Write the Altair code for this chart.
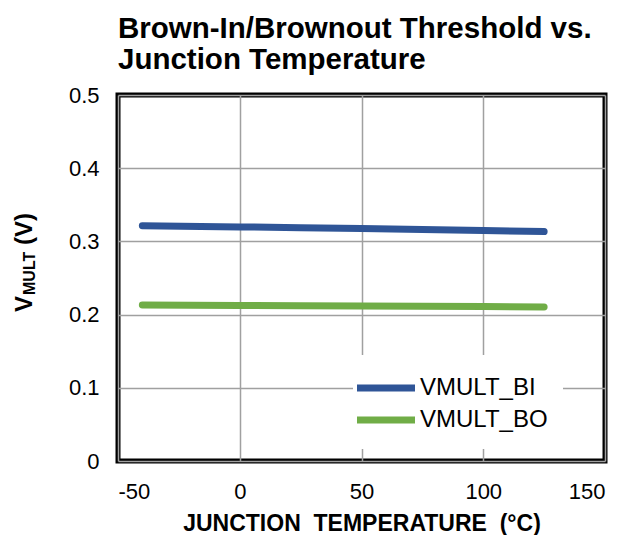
import altair as alt
import pandas as pd

temps = [-40, 0, 25, 50, 75, 100, 125]
vmult_bi = [0.3215, 0.3198, 0.3188, 0.3176, 0.3164, 0.3150, 0.3134]
vmult_bo = [0.2131, 0.2124, 0.2120, 0.2117, 0.2113, 0.2109, 0.2104]
series = ["VMULT_BI", "VMULT_BO"]
colors = ["#2F5597", "#70AD47"]
x_ticks = [-50, 0, 50, 100, 150]
y_ticks = [0, 0.1, 0.2, 0.3, 0.4, 0.5]

rows = []
for t, v in zip(temps, vmult_bi):
    rows.append({"temp": t, "v": v, "series": series[0]})
for t, v in zip(temps, vmult_bo):
    rows.append({"temp": t, "v": v, "series": series[1]})
df = pd.DataFrame(rows)

FONT = "Liberation Sans"
W, H = 487, 366
NB = "\u00a0"

lines = alt.Chart(df).mark_line(strokeWidth=7, strokeCap="round", strokeJoin="round").encode(
    x=alt.X("temp:Q", scale=alt.Scale(domain=[-50, 150], nice=False),
            axis=alt.Axis(values=x_ticks,
                          title=f"JUNCTION{NB}{NB}TEMPERATURE{NB}{NB}(°C)",
                          labelExpr="'' + datum.value", labelFlush=True,
                          titleFontSize=23, titleFont=FONT, titleFontWeight="bold",
                          titleColor="black", titlePadding=10)),
    y=alt.Y("v:Q", scale=alt.Scale(domain=[0, 0.5], nice=False),
            axis=alt.Axis(values=y_ticks, title=None, labelExpr="'' + datum.value",
                          labelFlush=False)),
    color=alt.Color("series:N", scale=alt.Scale(domain=series, range=colors),
                    legend=alt.Legend(orient="none", legendX=235, legendY=260, title=None,
                                      fillColor="white", padding=15,
                                      symbolType="M-2,0H2", symbolSize=841,
                                      symbolStrokeWidth=7, labelFontSize=24,
                                      labelFont=FONT, labelColor="black",
                                      labelOffset=16, rowPadding=-1)),
)

one = pd.DataFrame({"k": [0]})
ytitle_v = alt.Chart(one).mark_text(text="V", angle=270, align="left", baseline="alphabetic",
                                    font=FONT, fontWeight="bold", fontSize=24, color="black").encode(
    x=alt.value(-86), y=alt.value(217))
ytitle_sub = alt.Chart(one).mark_text(text="MULT", angle=270, align="left", baseline="alphabetic",
                                      font=FONT, fontWeight="bold", fontSize=16, color="black").encode(
    x=alt.value(-83), y=alt.value(200))
ytitle_rest = alt.Chart(one).mark_text(text="(V)", angle=270, align="left", baseline="alphabetic",
                                       font=FONT, fontWeight="bold", fontSize=24, color="black").encode(
    x=alt.value(-86), y=alt.value(150))

chart = alt.layer(lines, ytitle_v, ytitle_sub, ytitle_rest).properties(
    width=W, height=H,
    title=alt.TitleParams(text=["Brown-In/Brownout Threshold vs.", "Junction Temperature"],
                          anchor="start", frame="group", fontSize=29.5, font=FONT,
                          fontWeight="bold", color="black", lineHeight=31, offset=9),
    autosize=alt.AutoSizeParams(type="none"),
    padding={"left": 110, "top": 87, "right": 12, "bottom": 74},
).configure_view(stroke="black", strokeWidth=5).configure_axis(
    grid=True, gridColor="#a0a0a0", gridWidth=1.5, domain=False, ticks=False,
    labelFont=FONT, labelFontSize=22, labelColor="black", labelPadding=19,
).configure_axisX(labelPadding=20)

chart.save("out.html", embed_options={"renderer": "svg", "actions": False})
